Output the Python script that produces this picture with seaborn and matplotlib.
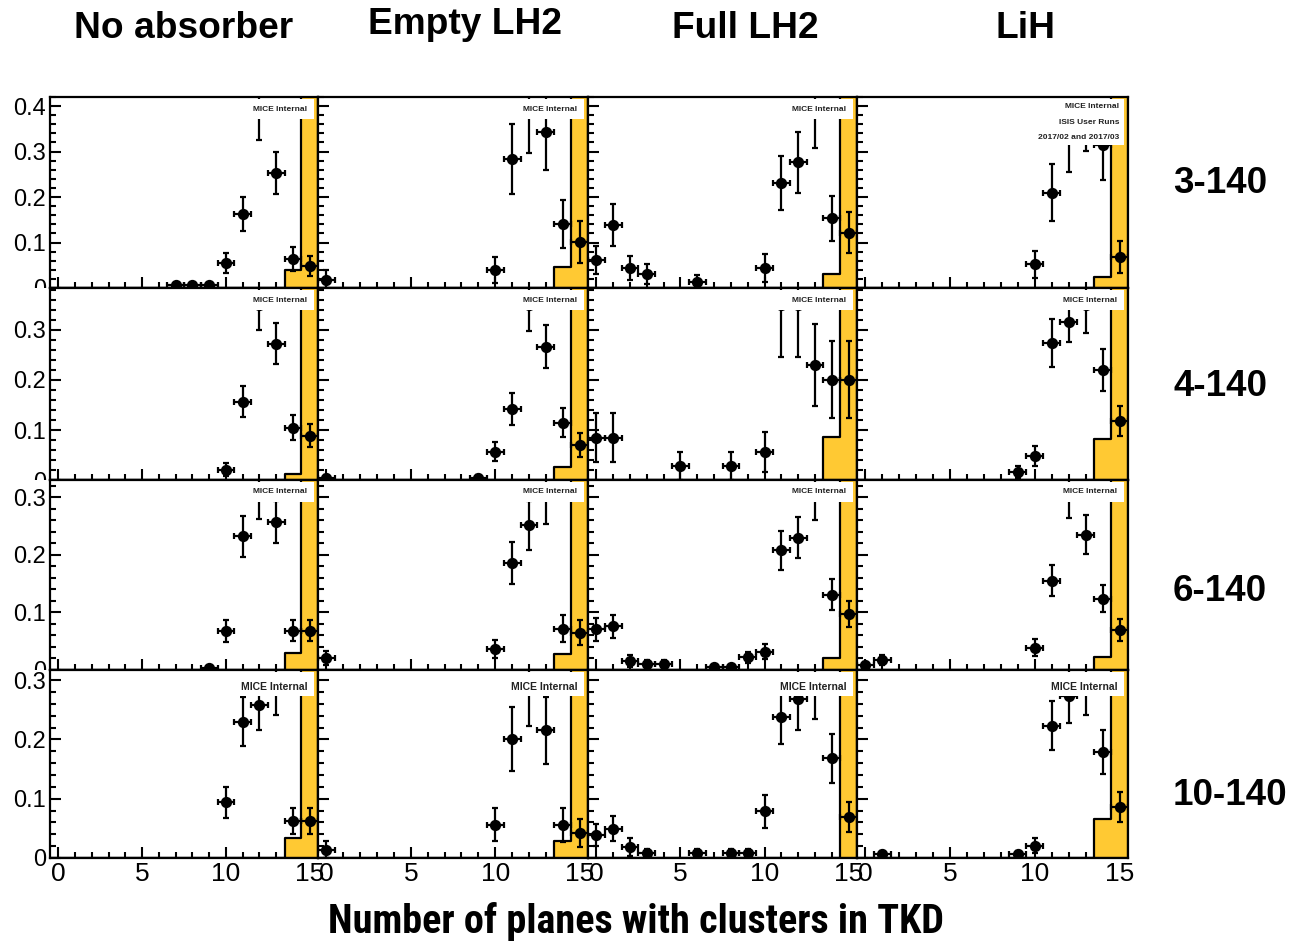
import numpy as np
import pandas as pd
import matplotlib
matplotlib.use("Agg")
import matplotlib.pyplot as plt
import seaborn as sns
from matplotlib.patches import Rectangle
from matplotlib.ticker import MultipleLocator, FuncFormatter
from matplotlib.transforms import Bbox, TransformedBbox

# ---------------------------------------------------------------- data
absorbers = ["No absorber", "Empty LH2", "Full LH2", "LiH"]
momentum_cuts = ["3-140", "4-140", "6-140", "10-140"]
x_label = "Number of planes with clusters in TKD"
x_ticks = [0, 5, 10, 15]

# fraction of events per number of planes (data points with errors)
# and reference histogram contents for the 14- and 15-plane bins
x_none_3 = [7, 8, 9, 10, 11, 12, 13, 14, 15]
y_none_3 = [0.007, 0.007, 0.007, 0.056, 0.163, 0.40, 0.253, 0.064, 0.048]
e_none_3 = [0.004, 0.004, 0.004, 0.022, 0.038, 0.074, 0.047, 0.026, 0.022]
h_none_3 = [0.039, 0.961]

x_empty_3 = [0, 10, 11, 12, 13, 14, 15]
y_empty_3 = [0.0185, 0.039, 0.284, 0.39, 0.344, 0.141, 0.101]
e_empty_3 = [0.020, 0.029, 0.077, 0.094, 0.085, 0.053, 0.046]
h_empty_3 = [0.047, 0.953]

x_full_3 = [0, 1, 2, 3, 6, 10, 11, 12, 13, 14, 15]
y_full_3 = [0.061, 0.139, 0.044, 0.030, 0.013, 0.044, 0.231, 0.276, 0.39, 0.153, 0.122]
e_full_3 = [0.031, 0.046, 0.027, 0.022, 0.015, 0.030, 0.060, 0.067, 0.083, 0.050, 0.045]
h_full_3 = [0.030, 0.970]

x_lih_3 = [10, 11, 12, 13, 14, 15]
y_lih_3 = [0.052, 0.210, 0.330, 0.350, 0.315, 0.069]
e_lih_3 = [0.030, 0.062, 0.074, 0.049, 0.078, 0.035]
h_lih_3 = [0.024, 0.976]

x_none_4 = [10, 11, 12, 13, 14, 15]
y_none_4 = [0.021, 0.157, 0.35, 0.273, 0.105, 0.089]
e_none_4 = [0.013, 0.031, 0.049, 0.041, 0.025, 0.023]
h_none_4 = [0.012, 0.988]

x_empty_4 = [0, 9, 10, 11, 12, 13, 14, 15]
y_empty_4 = [0.005, 0.005, 0.057, 0.143, 0.35, 0.267, 0.115, 0.071]
e_empty_4 = [0.005, 0.005, 0.019, 0.032, 0.052, 0.043, 0.029, 0.024]
h_empty_4 = [0.027, 0.973]

x_full_4 = [0, 1, 5, 8, 10, 11, 12, 13, 14, 15]
y_full_4 = [0.085, 0.085, 0.028, 0.028, 0.057, 0.35, 0.35, 0.231, 0.201, 0.201]
e_full_4 = [0.049, 0.049, 0.028, 0.028, 0.040, 0.103, 0.103, 0.082, 0.077, 0.077]
h_full_4 = [0.087, 0.913]

x_lih_4 = [9, 10, 11, 12, 13, 14, 15]
y_lih_4 = [0.017, 0.048, 0.275, 0.317, 0.35, 0.221, 0.118]
e_lih_4 = [0.012, 0.020, 0.048, 0.040, 0.055, 0.042, 0.030]
h_lih_4 = [0.082, 0.918]

x_none_6 = [9, 10, 11, 12, 13, 14, 15]
y_none_6 = [0.004, 0.068, 0.232, 0.305, 0.257, 0.068, 0.068]
e_none_6 = [0.003, 0.019, 0.035, 0.042, 0.037, 0.018, 0.018]
h_none_6 = [0.029, 0.971]

x_empty_6 = [0, 10, 11, 12, 13, 14, 15]
y_empty_6 = [0.021, 0.036, 0.186, 0.251, 0.305, 0.072, 0.065]
e_empty_6 = [0.012, 0.016, 0.036, 0.042, 0.051, 0.023, 0.021]
h_empty_6 = [0.028, 0.972]

x_full_6 = [0, 1, 2, 3, 4, 7, 8, 9, 10, 11, 12, 13, 14, 15]
y_full_6 = [0.071, 0.076, 0.016, 0.010, 0.010, 0.005, 0.005, 0.022, 0.032,
            0.208, 0.230, 0.305, 0.131, 0.097]
e_full_6 = [0.020, 0.020, 0.010, 0.008, 0.008, 0.004, 0.004, 0.010, 0.013,
            0.034, 0.036, 0.045, 0.027, 0.023]
h_full_6 = [0.020, 0.980]

x_lih_6 = [0, 1, 10, 11, 12, 13, 14, 15]
y_lih_6 = [0.009, 0.017, 0.039, 0.155, 0.305, 0.235, 0.124, 0.070]
e_lih_6 = [0.005, 0.009, 0.014, 0.027, 0.041, 0.034, 0.024, 0.019]
h_lih_6 = [0.022, 0.978]

x_none_10 = [10, 11, 12, 13, 14, 15]
y_none_10 = [0.094, 0.230, 0.258, 0.285, 0.063, 0.063]
e_none_10 = [0.026, 0.041, 0.042, 0.044, 0.022, 0.022]
h_none_10 = [0.033, 0.967]

x_empty_10 = [0, 10, 11, 12, 13, 14, 15]
y_empty_10 = [0.014, 0.056, 0.201, 0.285, 0.215, 0.056, 0.042]
e_empty_10 = [0.014, 0.028, 0.054, 0.062, 0.056, 0.029, 0.024]
h_empty_10 = [0.029, 0.971]

x_full_10 = [0, 1, 2, 3, 6, 8, 9, 10, 11, 12, 13, 14, 15]
y_full_10 = [0.039, 0.049, 0.019, 0.008, 0.008, 0.008, 0.008, 0.079, 0.237,
             0.268, 0.285, 0.168, 0.069]
e_full_10 = [0.019, 0.021, 0.015, 0.008, 0.008, 0.008, 0.008, 0.028, 0.045,
             0.052, 0.051, 0.041, 0.026]
h_full_10 = [0.0, 1.0]

x_lih_10 = [1, 9, 10, 11, 12, 13, 14, 15]
y_lih_10 = [0.007, 0.007, 0.021, 0.223, 0.273, 0.285, 0.179, 0.086]
e_lih_10 = [0.005, 0.005, 0.013, 0.041, 0.045, 0.044, 0.037, 0.025]
h_lih_10 = [0.066, 0.934]

hist_bins = [14, 15]
y_max = [0.42, 0.384, 0.33, 0.317]

panels = [
    [(x_none_3, y_none_3, e_none_3, h_none_3), (x_empty_3, y_empty_3, e_empty_3, h_empty_3),
     (x_full_3, y_full_3, e_full_3, h_full_3), (x_lih_3, y_lih_3, e_lih_3, h_lih_3)],
    [(x_none_4, y_none_4, e_none_4, h_none_4), (x_empty_4, y_empty_4, e_empty_4, h_empty_4),
     (x_full_4, y_full_4, e_full_4, h_full_4), (x_lih_4, y_lih_4, e_lih_4, h_lih_4)],
    [(x_none_6, y_none_6, e_none_6, h_none_6), (x_empty_6, y_empty_6, e_empty_6, h_empty_6),
     (x_full_6, y_full_6, e_full_6, h_full_6), (x_lih_6, y_lih_6, e_lih_6, h_lih_6)],
    [(x_none_10, y_none_10, e_none_10, h_none_10), (x_empty_10, y_empty_10, e_empty_10, h_empty_10),
     (x_full_10, y_full_10, e_full_10, h_full_10), (x_lih_10, y_lih_10, e_lih_10, h_lih_10)],
]

# ---------------------------------------------------------------- style
sns.set_style("ticks")
WIDE = ["Liberation Sans", "DejaVu Sans"]
COND = ["Roboto Condensed", "Liberation Sans", "DejaVu Sans"]
plt.rcParams["font.family"] = WIDE
for key in ["text.color", "axes.labelcolor", "xtick.color", "ytick.color",
            "xtick.labelcolor", "ytick.labelcolor", "axes.edgecolor"]:
    plt.rcParams[key] = "black"
YELLOW = "#FFC933"
LW = 1.6

W, H = 1293, 941
fig = plt.figure(figsize=(W / 100, H / 100), dpi=100)
col_edges = [50, 318, 588, 857, 1128]
row_edges = [97, 288, 480, 670, 858]
bin_edges = (np.arange(17) - 0.5).tolist()

fmt = FuncFormatter(lambda v, p: "0" if abs(v) < 1e-9 else f"{v:.1f}")
axes = {}

for r in range(4):
    for c in range(4):
        xs, ys, es, hs = panels[r][c]
        left = col_edges[c] / W
        width = (col_edges[c + 1] - col_edges[c]) / W
        bottom = 1 - row_edges[r + 1] / H
        height = (row_edges[r + 1] - row_edges[r]) / H
        ax = fig.add_axes([left, bottom, width, height])
        axes[(r, c)] = ax

        # reference distribution (filled step histogram)
        ref = pd.DataFrame({"planes": hist_bins, "fraction": hs})
        sns.histplot(data=ref, x="planes", weights="fraction", bins=bin_edges,
                     element="step", fill=True, color=YELLOW, alpha=1,
                     edgecolor="black", linewidth=LW, ax=ax, zorder=1)

        # measured fractions with errors
        pts = pd.DataFrame({"planes": xs, "fraction": ys, "err": es})
        ax.errorbar(pts["planes"], pts["fraction"], yerr=pts["err"], xerr=0.5,
                    fmt="none", ecolor="black", elinewidth=LW, capsize=2.2,
                    capthick=LW, zorder=3)
        sns.scatterplot(data=pts, x="planes", y="fraction", color="black",
                        s=66, linewidth=0, ax=ax, zorder=4)

        ax.set_xlim(-0.5, 15.5)
        ax.set_ylim(0, y_max[r])
        ax.set_xlabel("")
        ax.set_ylabel("")
        ax.xaxis.set_major_locator(MultipleLocator(5))
        ax.xaxis.set_minor_locator(MultipleLocator(1))
        ax.yaxis.set_major_locator(MultipleLocator(0.1))
        ax.yaxis.set_minor_locator(MultipleLocator(0.02))
        ax.yaxis.set_major_formatter(fmt)
        ax.tick_params(which="both", direction="in", width=1.5, color="black",
                       top=False, right=False)
        ax.tick_params(which="major", length=8)
        ax.tick_params(which="minor", length=4)
        ax.tick_params(axis="y", labelsize=17, pad=3,
                       labelleft=(c == 0))
        ax.tick_params(axis="x", labelsize=19, pad=3,
                       labelbottom=(r == 3))
        for sp in ax.spines.values():
            sp.set_visible(True)
            sp.set_linewidth(LW)
            sp.set_color("black")

        # collaboration label box
        if r == 0 and c == 3:
            ax.add_patch(Rectangle((0.66, 0.75), 0.325, 0.24, transform=ax.transAxes,
                                   facecolor="white", edgecolor="none", zorder=5))
            for txt, yy in [("MICE Internal", 0.948), ("ISIS User Runs", 0.866),
                            ("2017/02 and 2017/03", 0.79)]:
                ax.text(0.967, yy, txt, ha="right", va="center", fontsize=6,
                        fontweight="bold", transform=ax.transAxes,
                        zorder=6, color="#222222")
        elif r == 3:
            ax.add_patch(Rectangle((0.69, 0.86), 0.295, 0.13, transform=ax.transAxes,
                                   facecolor="white", edgecolor="none", zorder=5))
            ax.text(0.962, 0.91, "MICE Internal", ha="right", va="center",
                    fontsize=7.5, fontweight="bold",
                    transform=ax.transAxes, zorder=6, color="#222222")
        else:
            ax.add_patch(Rectangle((0.665, 0.885), 0.32, 0.105, transform=ax.transAxes,
                                   facecolor="white", edgecolor="none", zorder=5))
            ax.text(0.959, 0.937, "MICE Internal", ha="right", va="center",
                    fontsize=6, fontweight="bold",
                    transform=ax.transAxes, zorder=6, color="#222222")

# column and row headings
title_pos = [(184, 38), (465, 34), (745, 38), (1026, 38)]
for name, (tx, ty) in zip(absorbers, title_pos):
    fig.text(tx / W, 1 - ty / H, name, ha="center", va="baseline",
             fontsize=26.7, fontweight="bold")
row_pos = [193, 396, 601, 805]
for name, ty in zip(momentum_cuts, row_pos):
    fig.text(1173 / W, 1 - ty / H, name, ha="left", va="baseline",
             fontsize=26.5, fontweight="bold")
fig.text(636 / W, 1 - 933 / H, x_label, ha="center", va="baseline",
         fontsize=29, fontweight="bold", family=COND)

# tick labels of the upper rows are hidden where the next row begins
fig.canvas.draw()
for r in range(3):
    ax = axes[(r, 0)]
    clip = TransformedBbox(Bbox([[0, 1 - row_edges[r + 1] / H], [1, 1]]),
                           fig.transFigure)
    for lab in ax.get_yticklabels():
        lab.set_clip_box(clip)
        lab.set_clip_on(True)

fig.savefig("out.png", dpi=100)
